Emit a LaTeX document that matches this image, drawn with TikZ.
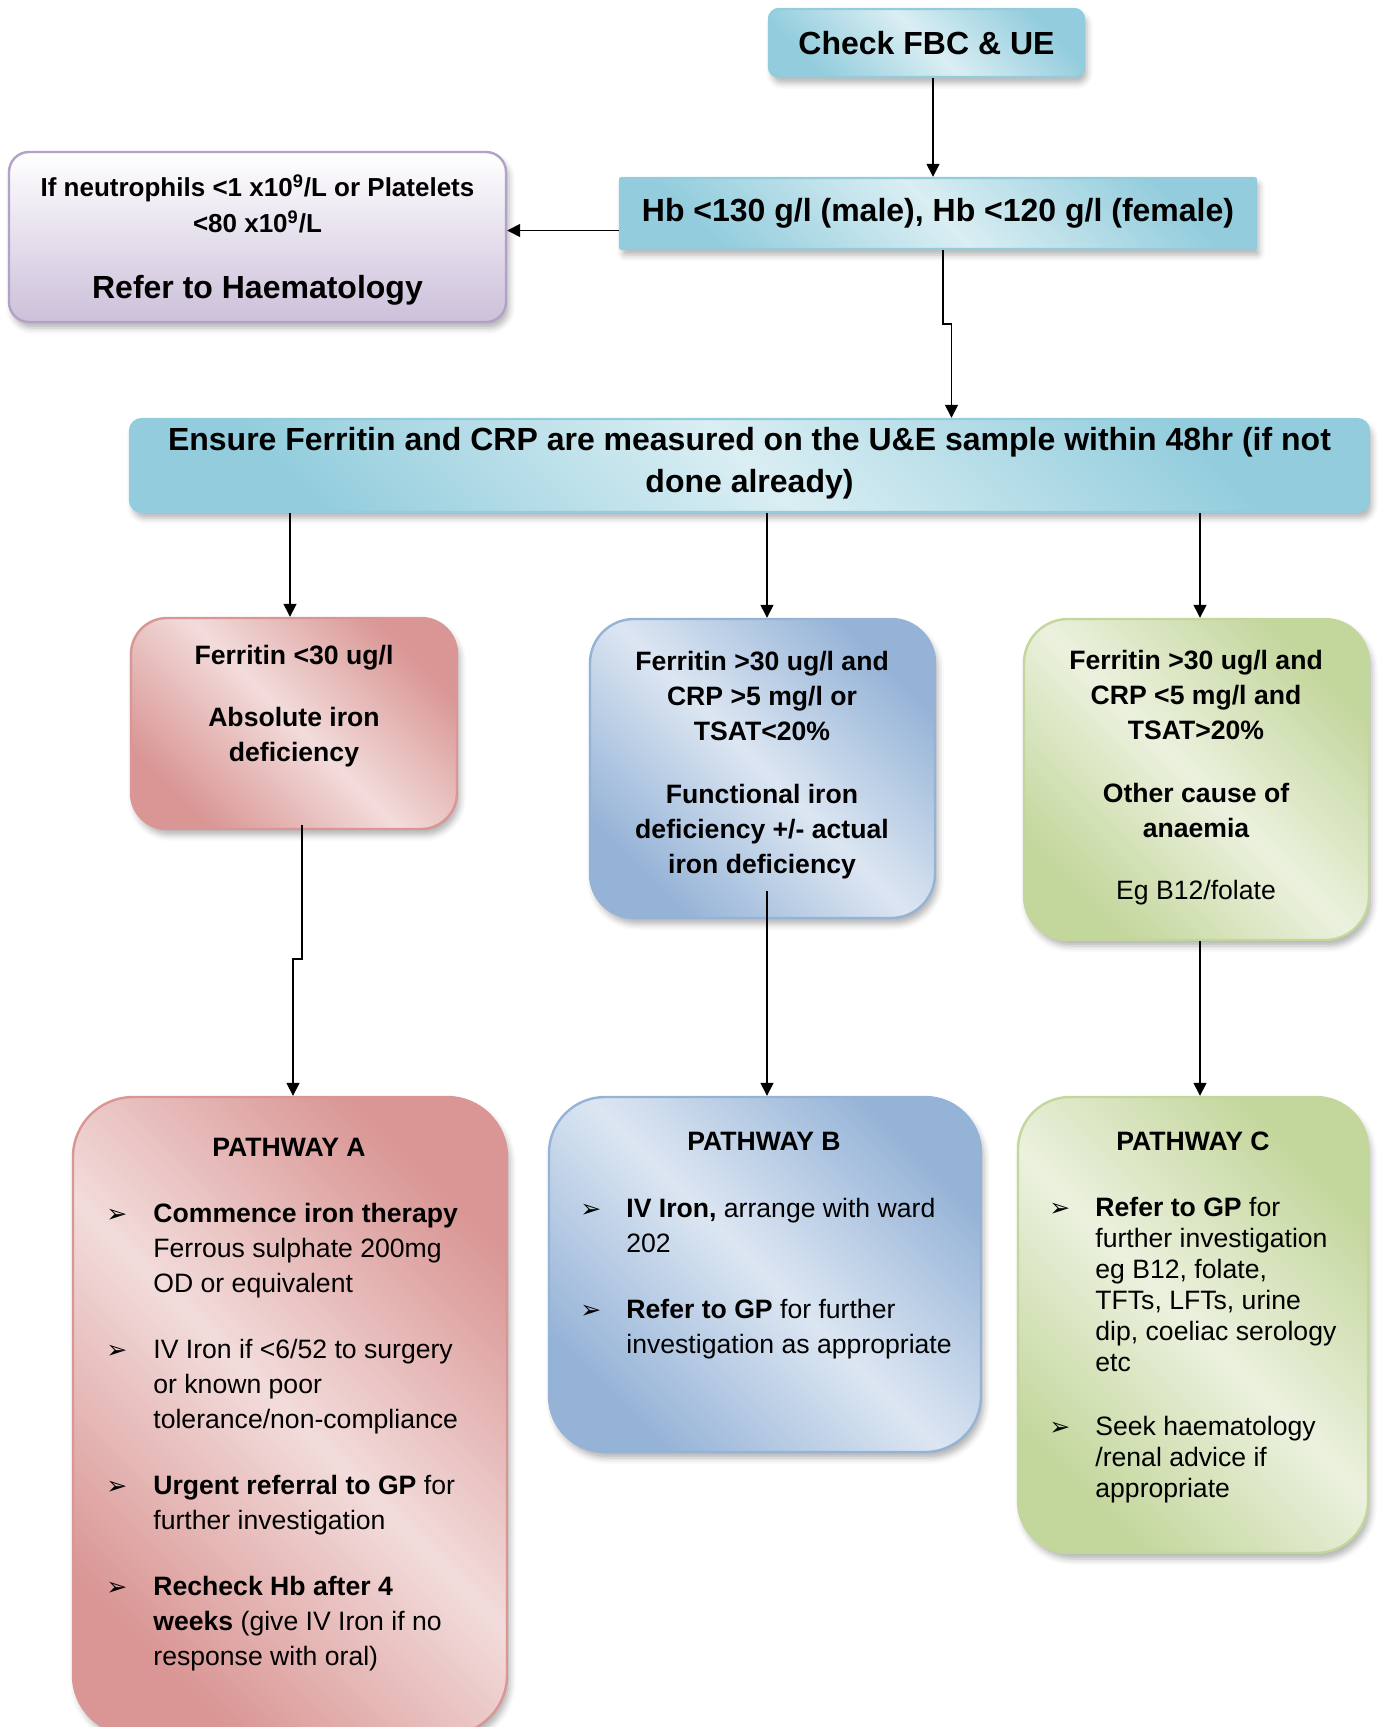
\documentclass[tikz,border=0pt]{standalone}
\usepackage{fontspec}
\setmainfont{Liberation Sans}
\newfontfamily\dingfont{DejaVu Sans}
\usetikzlibrary{arrows.meta,positioning,shadows.blur}

\definecolor{aquaD}{HTML}{93CDDD}
\definecolor{aquaL}{HTML}{DAEEF3}
\definecolor{redD}{HTML}{D99694}
\definecolor{redL}{HTML}{F2DCDB}
\definecolor{blueD}{HTML}{95B3D7}
\definecolor{blueL}{HTML}{DCE6F2}
\definecolor{greenD}{HTML}{C3D69B}
\definecolor{greenL}{HTML}{EBF1DE}
\definecolor{purpD}{HTML}{CCC0DA}
\definecolor{purpB}{HTML}{B3A2C7}

\newcommand{\bul}{{\dingfont\fontsize{12.5}{12.5}\selectfont ➢}}

\tikzset{
  box/.style={line width=1.2pt, inner sep=0pt,
    blur shadow={shadow xshift=1.5pt, shadow yshift=-3pt, shadow blur radius=3pt, shadow opacity=30}},
  aquabox/.style={box, draw=aquaD, left color=aquaD, right color=aquaD, middle color=aquaL, shading angle=-45},
  redbox/.style={box, draw=redD, left color=redD, right color=redD, middle color=redL, shading angle=-45},
  bluebox/.style={box, draw=blueD, left color=blueD, right color=blueD, middle color=blueL, shading angle=-45},
  greenbox/.style={box, draw=greenD, left color=greenD, right color=greenD, middle color=greenL, shading angle=-45},
  purpbox/.style={box, draw=purpB, top color=white, bottom color=purpD},
  bigtxt/.style={font=\bfseries\fontsize{16}{21}\selectfont, align=center},
  midtxt/.style={font=\bfseries\fontsize{13.3}{17.5}\selectfont, align=center, inner sep=0pt},
  lsttxt/.style={font=\fontsize{13.3}{17.5}\selectfont, inner sep=0pt, anchor=base west},
  arr/.style={line width=0.75pt, -{Triangle[length=6.5pt,width=6.5pt]}}
}

\begin{document}
\begin{tikzpicture}[x=0.5pt,y=-0.5pt]
 \useasboundingbox (0,0) rectangle (1378,1727);
 \clip (0,0) rectangle (1378,1727);

 \node[aquabox, rounded corners=5pt, minimum width=157.5pt, minimum height=34pt, bigtxt] (fbc) at (926.5,43) {Check FBC \& UE};
 \node[aquabox, rounded corners=1pt, minimum width=318pt, minimum height=35.5pt, bigtxt] (hb) at (938,213.5) {Hb <130 g/l (male), Hb <120 g/l (female)};
 \node[purpbox, rounded corners=10pt, minimum width=248.5pt, minimum height=85pt] (neutro) at (257.5,237) {};
 \node[aquabox, rounded corners=6pt, minimum width=619.5pt, minimum height=46.5pt] (ensure) at (749.5,465.5) {};

 \node[redbox, rounded corners=18pt, minimum width=163pt, minimum height=105.5pt] (ferA) at (294,723.5) {};
 \node[bluebox, rounded corners=22pt, minimum width=172.5pt, minimum height=149.5pt] (ferB) at (762.5,768.5) {};
 \node[greenbox, rounded corners=22pt, minimum width=172.5pt, minimum height=160.5pt] (ferC) at (1196.5,779.5) {};

 \node[redbox, rounded corners=30pt, minimum width=217pt, minimum height=319pt] (pathA) at (290,1416) {};
 \node[bluebox, rounded corners=28pt, minimum width=216pt, minimum height=177.5pt] (pathB) at (765,1274.5) {};
 \node[greenbox, rounded corners=26pt, minimum width=175pt, minimum height=228pt] (pathC) at (1193,1325) {};

 \node[midtxt, font=\bfseries\fontsize{13}{18}\selectfont] (neutroTop) at (257.5,204) {If neutrophils <1 x10\textsuperscript{9}/L or Platelets\\<80 x10\textsuperscript{9}/L};
 \node[bigtxt, inner sep=0pt] (neutroRef) at (257.5,290) {Refer to Haematology};
 \node[bigtxt, inner sep=0pt] (ensureTxt) at (749.5,463) {Ensure Ferritin and CRP are measured on the U\&E sample within 48hr (if not\\done already)};

 \node[midtxt] (ferAtxt) at (294,706) {Ferritin <30 ug/l\\[13.5pt]Absolute iron\\deficiency};
 \node[midtxt] (ferBtxt) at (762,765) {Ferritin >30 ug/l and\\CRP >5 mg/l or\\TSAT<20\%\\[14pt]Functional iron\\deficiency +/- actual\\iron deficiency};
 \node[midtxt] (ferCtxt) at (1196,778) {Ferritin >30 ug/l and\\CRP <5 mg/l and\\TSAT>20\%\\[14pt]Other cause of\\anaemia\\[13.5pt]{\mdseries Eg B12/folate}};

 \node[midtxt] (titleA) at (289,1147) {PATHWAY A};
 \node[midtxt] (titleB) at (764,1141) {PATHWAY B};
 \node[midtxt] (titleC) at (1193,1141) {PATHWAY C};

 \node[lsttxt] (listA) at (106,1222) {\begin{tabular}[t]{@{}p{23.5pt}@{}l@{}}
  \bul & \textbf{Commence iron therapy}\\
       & Ferrous sulphate 200mg\\
       & OD or equivalent\\[15.5pt]
  \bul & IV Iron if <6/52 to surgery\\
       & or known poor\\
       & tolerance/non-compliance\\[15.5pt]
  \bul & \textbf{Urgent referral to GP} for\\
       & further investigation\\[15.5pt]
  \bul & \textbf{Recheck Hb after 4}\\
       & \textbf{weeks} (give IV Iron if no\\
       & response with oral)
 \end{tabular}};
 \node[lsttxt] (listB) at (580,1217) {\begin{tabular}[t]{@{}p{23pt}@{}l@{}}
  \bul & \textbf{IV Iron,} arrange with ward\\
       & 202\\[15.5pt]
  \bul & \textbf{Refer to GP} for further\\
       & investigation as appropriate
 \end{tabular}};
 \node[lsttxt, font=\fontsize{13.3}{15.5}\selectfont] (listC) at (1049,1216) {\begin{tabular}[t]{@{}p{23pt}@{}l@{}}
  \bul & \textbf{Refer to GP} for\\
       & further investigation\\
       & eg B12, folate,\\
       & TFTs, LFTs, urine\\
       & dip, coeliac serology\\
       & etc\\[16.5pt]
  \bul & Seek haematology\\
       & /renal advice if\\
       & appropriate
 \end{tabular}};

 \draw[arr] ([xshift=3.25pt]fbc.south) -- ([xshift=3.25pt]fbc.south |- hb.north);
 \coordinate (hbL) at ([yshift=-8.5pt]hb.west);
 \draw[arr] (hbL) -- (hbL -| neutro.east);
 \draw[arr] ([xshift=2.5pt]hb.south) -- ++(0,74) -| ([xshift=101pt]ensure.north);
 \draw[arr] ([xshift=-2pt]ferA.north |- ensure.south) -- ([xshift=-2pt]ferA.north);
 \draw[arr] ([xshift=2.25pt]ferB.north |- ensure.south) -- ([xshift=2.25pt]ferB.north);
 \draw[arr] ([xshift=1.75pt]ferC.north |- ensure.south) -- ([xshift=1.75pt]ferC.north);
 \draw[arr] ([xshift=4pt,yshift=2.5pt]ferA.south) -- ++(0,134) -| ([xshift=1.5pt]pathA.north);
 \draw[arr] ([xshift=2.25pt,yshift=14pt]ferB.south) -- ([xshift=2.25pt]ferB.south |- pathB.north);
 \draw[arr] ([xshift=1.75pt]ferC.south) -- ([xshift=1.75pt]ferC.south |- pathC.north);
\end{tikzpicture}
\end{document}
